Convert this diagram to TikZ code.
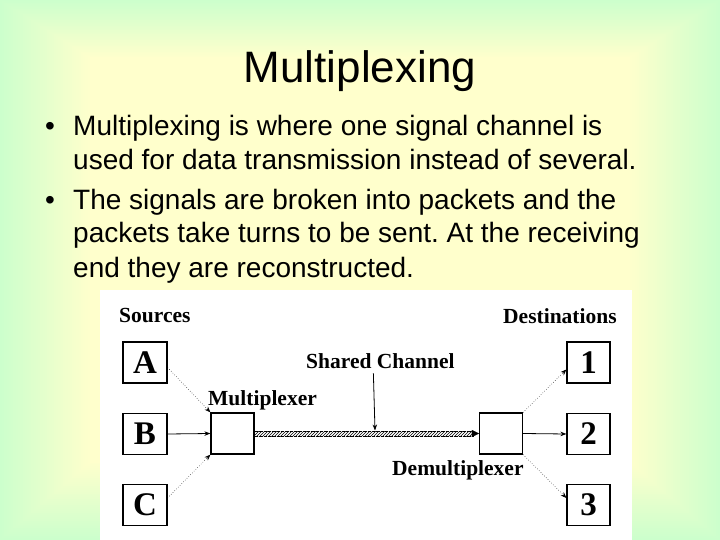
\documentclass[tikz,border=0pt]{standalone}
\usepackage{fontspec}
\setmainfont{Liberation Sans}
\newfontfamily\tms{Liberation Serif}
\usetikzlibrary{arrows.meta,patterns}
\definecolor{grn}{RGB}{204,255,204}
\definecolor{yel}{RGB}{255,255,204}
\frenchspacing
\tikzset{
  body/.style={anchor=base west,inner sep=0pt,font=\fontsize{28}{28}\selectfont},
  lbl/.style={anchor=base west,inner sep=0pt,font=\tms\bfseries\fontsize{21.5}{21.5}\selectfont},
  box/.style={draw,line width=1.2pt,minimum width=44pt,minimum height=41pt,inner sep=0pt,font=\tms\bfseries\fontsize{33}{33}\selectfont},
  tip/.style={-{Stealth[length=6pt,width=4.5pt]}},
  dotline/.style={tip,dotted,line width=0.5pt},
  solidline/.style={tip,line width=0.8pt}
}
\begin{document}
\begin{tikzpicture}[x=1pt,y=-1pt]
\useasboundingbox (0,0) rectangle (720,540);
% background gradient
\fill[grn] (0,0) rectangle (720,540);
\foreach \i in {0,...,40}{
  \pgfmathsetmacro\s{1-0.25*\i/40}
  \pgfmathtruncatemacro\p{100*\i/40}
  \fill[yel!\p!grn] ({360-360*\s},{230-230*\s}) rectangle ({360+360*\s},{230+310*\s});
}
% title
\node[anchor=base,inner sep=0pt,font=\fontsize{44}{44}\selectfont] (title) at (360,83) {Multiplexing};
% bullets
\node[body] (b1) at (45,136) {•};
\node[body] (t1) at (73,136) {Multiplexing is where one signal channel is};
\node[body] (t2) at (73,170) {used for data transmission instead of several.};
\node[body] (b2) at (45,210) {•};
\node[body] (t3) at (73,210) {The signals are broken into packets and the};
\node[body] (t4) at (73,243) {packets take turns to be sent. At the receiving};
\node[body] (t5) at (73,277) {end they are reconstructed.};
% diagram area
\fill[white] (100,290) rectangle (632,540);
\node[lbl] (src) at (119,322) {Sources};
\node[lbl] (dst) at (503,323) {Destinations};
\node[lbl] (shared) at (306,368) {Shared Channel};
\node[lbl] (muxl) at (208,405) {Multiplexer};
\node[lbl] (demuxl) at (392,475) {Demultiplexer};
\node[box] (A) at (145,362.5) {A};
\node[box] (B) at (145,434) {B};
\node[box] (C) at (145,505) {C};
\node[box,minimum width=43pt] (mux) at (232.5,433.5) {};
\node[box,minimum width=43pt] (demux) at (501,433.5) {};
\node[box,minimum width=43pt] (d1) at (588.5,362.5) {1};
\node[box,minimum width=43pt] (d2) at (588.5,434) {2};
\node[box,minimum width=43pt] (d3) at (588.5,505) {3};
% source connectors
\draw[dotline] ([yshift=-5pt]A.east) -- (mux.north west);
\draw[solidline] (B.east) -- (mux.west);
\draw[dotline] ([yshift=7pt]C.east) -- (mux.south west);
% destination connectors
\draw[dotline] (demux.north east) -- ([yshift=-7pt]d1.west);
\draw[solidline] (demux.east) -- (d2.west);
\draw[dotline] (demux.south east) -- ([yshift=7pt]d3.west);
% shared channel
\path[pattern=north east lines] ([yshift=2.5pt]mux.east) rectangle ([yshift=-2.5pt,xshift=-5pt]demux.west);
\draw[line width=0.3pt,densely dotted] ([yshift=2.5pt]mux.east) -- ([yshift=2.5pt,xshift=-5pt]demux.west);
\draw[line width=0.3pt,densely dotted] ([yshift=-2.5pt]mux.east) -- ([yshift=-2.5pt,xshift=-5pt]demux.west);
\draw[-{Triangle[length=7pt,width=7pt]},line width=0.1pt] ([xshift=-7pt]demux.west) -- (demux.west);
\coordinate (chan) at (375,430.5);
\draw[solidline] ([xshift=-7pt,yshift=-5pt]shared.south) -- (chan);
\end{tikzpicture}
\end{document}
